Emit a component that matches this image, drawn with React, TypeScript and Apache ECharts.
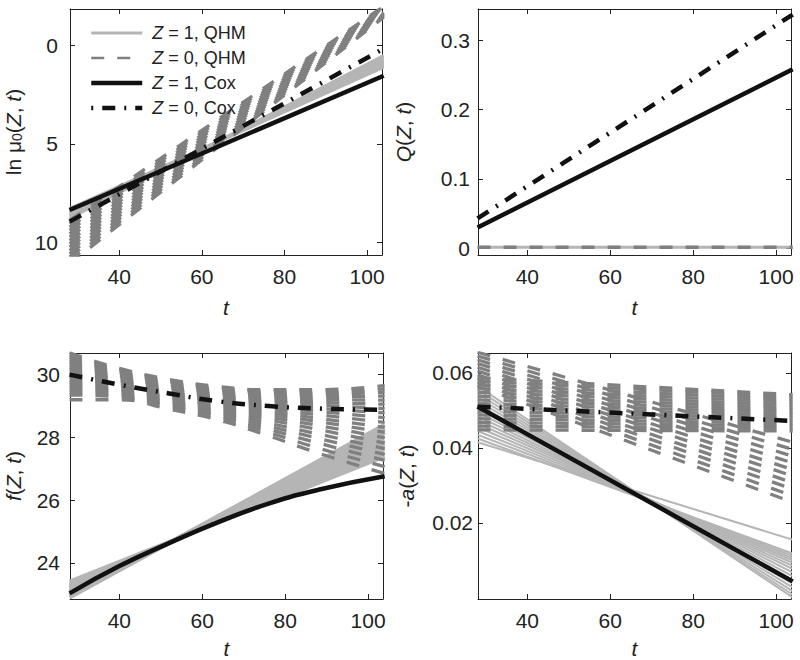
import React, { useEffect, useRef } from "react";
import * as echarts from "echarts";

const FONT = "'Liberation Sans', Arial, Helvetica, sans-serif";

// sample times
const tLin = [28, 104];
const tCurve = [28, 40, 52, 64, 76, 88, 104];
const xTicks = [40, 60, 80, 100];

// legend labels
const seriesNames = ["Z = 1, QHM", "Z = 0, QHM", "Z = 1, Cox", "Z = 0, Cox"];

// Panel 1: ln mu0(Z, t)
const lnTicks = [0, 5, 10];
const lnQhm1Start = [8.3, 8.37, 8.44, 8.51, 8.58, 8.65, 8.72, 8.8];
const lnQhm1End = [1.1, 1.02, 0.93, 0.85, 0.76, 0.67, 0.58, 0.5];
const lnQhm0Start = [8.9, 9.07, 9.24, 9.41, 9.58, 9.75, 9.92, 10.09, 10.26, 10.43, 10.6, 10.77, 10.94, 11.1];
const lnQhm0End = [-2.0, -1.96, -1.92, -1.88, -1.84, -1.8, -1.76, -1.71, -1.67, -1.63, -1.59, -1.55, -1.5, -1.45];
const lnCox1 = [8.37, 1.53];
const lnCox0 = [8.96, 0.15];

// Panel 2: Q(Z, t)
const qTicks = [0, 0.1, 0.2, 0.3];
const qQhm1 = [0.0015, 0.0015];
const qQhm0 = [0.0015, 0.0015];
const qCox1 = [0.03, 0.258];
const qCox0 = [0.043, 0.337];

// Panel 3: f(Z, t)
const fTicks = [24, 26, 28, 30];
const fQhm1Start = [22.9, 22.96, 23.02, 23.08, 23.14, 23.2, 23.26, 23.32, 23.4];
const fQhm1End = [28.4, 28.28, 28.15, 28.03, 27.9, 27.78, 27.65, 27.52, 27.4];
const fQhm0Curves = [
  [30.7, 30.2, 29.85, 29.62, 29.52, 29.52, 29.65],
  [30.62, 30.15, 29.8, 29.57, 29.47, 29.45, 29.55],
  [30.55, 30.1, 29.76, 29.52, 29.41, 29.38, 29.44],
  [30.47, 30.05, 29.71, 29.47, 29.35, 29.3, 29.32],
  [30.39, 29.99, 29.66, 29.41, 29.28, 29.21, 29.19],
  [30.31, 29.94, 29.61, 29.36, 29.21, 29.12, 29.06],
  [30.23, 29.89, 29.56, 29.3, 29.14, 29.03, 28.92],
  [30.15, 29.83, 29.51, 29.24, 29.06, 28.93, 28.78],
  [30.07, 29.78, 29.46, 29.18, 28.98, 28.83, 28.63],
  [29.99, 29.72, 29.41, 29.12, 28.9, 28.72, 28.48],
  [29.91, 29.67, 29.36, 29.06, 28.82, 28.61, 28.32],
  [29.83, 29.62, 29.31, 29.0, 28.74, 28.5, 28.16],
  [29.75, 29.56, 29.26, 28.94, 28.65, 28.38, 27.99],
  [29.67, 29.51, 29.21, 28.88, 28.56, 28.25, 27.82],
  [29.59, 29.45, 29.15, 28.82, 28.46, 28.11, 27.64],
  [29.51, 29.4, 29.1, 28.76, 28.36, 27.97, 27.46],
  [29.43, 29.34, 29.04, 28.7, 28.26, 27.82, 27.27],
  [29.35, 29.29, 28.99, 28.64, 28.16, 27.66, 27.07],
  [29.2, 29.2, 28.9, 28.55, 28.05, 27.5, 26.85],
];
const fCox1 = [23.03, 23.9, 24.63, 25.31, 25.89, 26.33, 26.76];
const fCox0 = [30.0, 29.68, 29.4, 29.15, 29.0, 28.92, 28.88];

// Panel 4: -a(Z, t)
const aTicks = [0.02, 0.04, 0.06];
const aQhm1Start = [0.0415, 0.0425, 0.0435, 0.0445, 0.0455, 0.0465, 0.0475, 0.0485, 0.0495, 0.0505, 0.0515, 0.0525, 0.0535, 0.0545, 0.0555, 0.0565];
const aQhm1End = [0.0155, 0.0118, 0.0112, 0.0106, 0.01, 0.0093, 0.0085, 0.0077, 0.0068, 0.0058, 0.0048, 0.0038, 0.0028, 0.0018, 0.0009, 0.0001];
const aQhm0FlatStart = [0.0448, 0.0458, 0.0468, 0.0478, 0.0488, 0.0498, 0.0508, 0.0518, 0.0528, 0.0538, 0.0548, 0.0558, 0.0568, 0.0578, 0.0587];
const aQhm0FlatEnd = [0.0445, 0.0452, 0.0459, 0.0466, 0.0473, 0.048, 0.0487, 0.0494, 0.0501, 0.0508, 0.0515, 0.0522, 0.0529, 0.0536, 0.0542];
const aQhm0FallStart = [0.0655, 0.0645, 0.0635, 0.0625, 0.0615, 0.0605, 0.0595, 0.0585, 0.0575, 0.0565];
const aQhm0FallEnd = [0.0415, 0.0396, 0.0378, 0.036, 0.0342, 0.0325, 0.0307, 0.029, 0.0272, 0.0255];
const aCox1 = [0.051, 0.0044];
const aCox0 = [0.051, 0.0472];

const LIGHT = "#b5b5b5";
const DARK = "#808080";
const BLACK = "#111111";
const AXIS = "#222222";
const DASH = [13, 13];
const DASHDOT = [13, 9, 2, 9];

const styleQhm1 = { color: LIGHT, width: 3, type: "solid" };
const styleQhm1Wide = { color: LIGHT, width: 4.2, type: "solid" };
const styleQhm1Thin = { color: LIGHT, width: 2, type: "solid" };
const styleQhm0 = { color: DARK, width: 3.3, type: DASH };
const styleCox1 = { color: BLACK, width: 4.5, type: "solid" };
const styleCox0 = { color: BLACK, width: 4.5, type: DASHDOT };

function pairs(ts: number[], vs: number[]) {
  return ts.map((t, i) => [t, vs[i]]);
}

function line(name: string, g: number, data: number[][], lineStyle: any, smooth = false) {
  return {
    type: "line",
    name,
    xAxisIndex: 2 * g,
    yAxisIndex: 2 * g,
    data,
    symbol: "none",
    showSymbol: false,
    smooth,
    silent: true,
    itemStyle: { color: lineStyle.color },
    lineStyle,
  };
}

function fan(name: string, g: number, starts: number[], ends: number[], st: any) {
  return starts.map((s, i) => line(name, g, [[tLin[0], s], [tLin[1], ends[i]]], st));
}

const tickStyle = { color: AXIS, width: 1 };
const richName = {
  n: { fontSize: 21, fontFamily: FONT, color: AXIS },
  i: { fontSize: 21, fontFamily: FONT, color: AXIS, fontStyle: "italic" },
  s: { fontSize: 14, fontFamily: FONT, color: AXIS, verticalAlign: "bottom", lineHeight: 14 },
};

function xAxes(g: number, nameGap: number) {
  return [
    {
      type: "value",
      gridIndex: g,
      min: 28.1,
      max: 103.6,
      position: "bottom",
      axisLine: { show: true, onZero: false, lineStyle: tickStyle },
      axisTick: { show: true, inside: true, length: 5, customValues: xTicks, lineStyle: tickStyle },
      axisLabel: { customValues: xTicks, fontSize: 21, fontFamily: FONT, color: AXIS, margin: 11 },
      splitLine: { show: false },
      name: "t",
      nameLocation: "middle",
      nameGap,
      nameTextStyle: { fontSize: 21, fontFamily: FONT, color: AXIS, fontStyle: "italic" },
    },
    {
      type: "value",
      gridIndex: g,
      min: 28.1,
      max: 103.6,
      position: "top",
      axisLine: { show: true, onZero: false, lineStyle: tickStyle },
      axisTick: { show: true, inside: true, length: 5, customValues: xTicks, lineStyle: tickStyle },
      axisLabel: { show: false },
      splitLine: { show: false },
    },
  ];
}

function yAxes(g: number, min: number, max: number, ticks: number[], name: string, nameGap: number, margin: number, inverse = false) {
  const base = {
    type: "value",
    gridIndex: g,
    min,
    max,
    inverse,
    splitLine: { show: false },
  };
  return [
    {
      ...base,
      position: "left",
      axisLine: { show: true, onZero: false, lineStyle: tickStyle },
      axisTick: { show: true, inside: true, length: 5, customValues: ticks, lineStyle: tickStyle },
      axisLabel: { customValues: ticks, fontSize: 21, fontFamily: FONT, color: AXIS, margin },
      name,
      nameLocation: "middle",
      nameGap,
      nameTextStyle: { fontSize: 21, fontFamily: FONT, color: AXIS, rich: richName },
    },
    {
      ...base,
      position: "right",
      axisLine: { show: true, onZero: false, lineStyle: tickStyle },
      axisTick: { show: true, inside: true, length: 5, customValues: ticks, lineStyle: tickStyle },
      axisLabel: { show: false },
    },
  ];
}

function buildOption() {
  const [n1, n0, c1, c0] = seriesNames;
  const series: any[] = [
    // panel 0
    ...fan(n1, 0, lnQhm1Start, lnQhm1End, styleQhm1),
    ...fan(n0, 0, lnQhm0Start, lnQhm0End, styleQhm0),
    line(c1, 0, pairs(tLin, lnCox1), styleCox1),
    line(c0, 0, pairs(tLin, lnCox0), styleCox0),
    // panel 1
    line(n1, 1, pairs(tLin, qQhm1), styleQhm1),
    line(n0, 1, pairs(tLin, qQhm0), styleQhm0),
    line(c1, 1, pairs(tLin, qCox1), styleCox1),
    line(c0, 1, pairs(tLin, qCox0), styleCox0),
    // panel 2
    ...fan(n1, 2, fQhm1Start, fQhm1End, styleQhm1Wide),
    ...fQhm0Curves.map((c) => line(n0, 2, pairs(tCurve, c), styleQhm0, true)),
    line(c1, 2, pairs(tCurve, fCox1), styleCox1, true),
    line(c0, 2, pairs(tCurve, fCox0), styleCox0, true),
    // panel 3
    ...fan(n1, 3, aQhm1Start, aQhm1End, styleQhm1Thin),
    ...fan(n0, 3, aQhm0FlatStart, aQhm0FlatEnd, styleQhm0),
    ...fan(n0, 3, aQhm0FallStart, aQhm0FallEnd, styleQhm0),
    line(c1, 3, pairs(tLin, aCox1), styleCox1),
    line(c0, 3, pairs(tLin, aCox0), styleCox0),
  ];

  const hidden = { opacity: 0 };

  return {
    animation: false,
    backgroundColor: "#ffffff",
    textStyle: { fontFamily: FONT },
    grid: [
      { left: 70, top: 9, width: 312, height: 246 },
      { left: 478, top: 9, width: 313, height: 246 },
      { left: 70, top: 353, width: 313, height: 246 },
      { left: 478, top: 353, width: 313, height: 246 },
    ],
    xAxis: [...xAxes(0, 42), ...xAxes(1, 42), ...xAxes(2, 39), ...xAxes(3, 39)],
    yAxis: [
      ...yAxes(0, -1.87, 10.66, lnTicks, "{n|ln μ}{s|0}{n|(}{i|Z}{n|, }{i|t}{n|)}", 46, 12, true),
      ...yAxes(1, -0.0097, 0.345, qTicks, "{i|Q}{n|(}{i|Z}{n|, }{i|t}{n|)}", 64, 8),
      ...yAxes(2, 22.85, 30.69, fTicks, "{i|f}{n|(}{i|Z}{n|, }{i|t}{n|)}", 46, 10),
      ...yAxes(3, -0.0003, 0.0653, aTicks, "{n|-}{i|a}{n|(}{i|Z}{n|, }{i|t}{n|)}", 61, 5),
    ],
    legend: {
      show: true,
      orient: "vertical",
      left: 89,
      top: 23,
      padding: 0,
      itemWidth: 51,
      itemHeight: 14,
      itemGap: 5,
      selectedMode: false,
      itemStyle: hidden,
      formatter: (name: string) => `{i|Z}{n|${name.slice(1)}}`,
      textStyle: {
        fontSize: 18,
        fontFamily: FONT,
        color: AXIS,
        lineHeight: 20,
        padding: [0, 0, 0, 5],
        rich: {
          i: { fontSize: 18, fontFamily: FONT, color: AXIS, fontStyle: "italic" },
          n: { fontSize: 18, fontFamily: FONT, color: AXIS },
        },
      },
      data: [
        { name: n1, itemStyle: hidden, lineStyle: { ...styleQhm1 } },
        { name: n0, itemStyle: hidden, lineStyle: { ...styleQhm0, width: 2.7 } },
        { name: c1, itemStyle: hidden, lineStyle: { ...styleCox1 } },
        { name: c0, itemStyle: hidden, lineStyle: { ...styleCox0, dashOffset: 22 } },
      ],
    },
    series,
  };
}

export default function App() {
  const ref = useRef<HTMLDivElement>(null);
  useEffect(() => {
    if (!ref.current) return;
    const chart = echarts.init(ref.current, undefined, { renderer: "svg" });
    chart.setOption(buildOption() as any);
    return () => chart.dispose();
  }, []);
  return (
    <div
      ref={ref}
      style={{ position: "fixed", left: 0, top: 0, width: 800, height: 660, background: "#fff" }}
    />
  );
}
